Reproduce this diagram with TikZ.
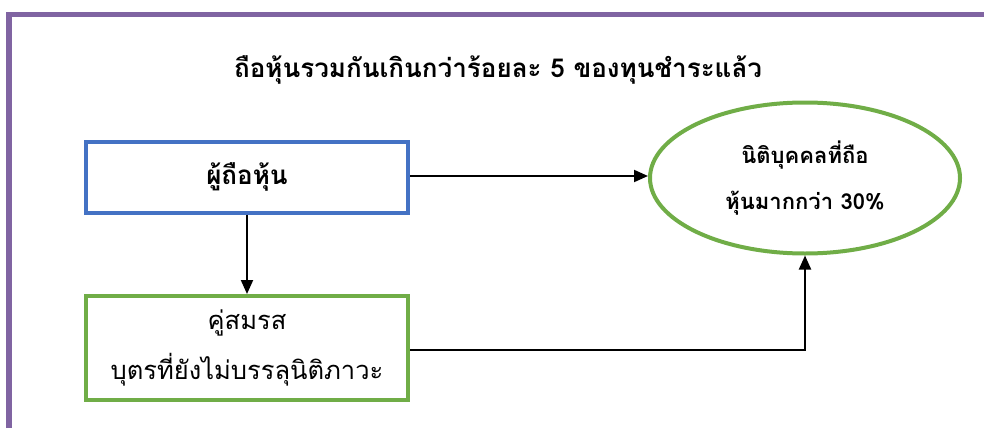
\documentclass[tikz,border=0pt]{standalone}
\usepackage{fontspec}
\newfontfamily\thai[Script=Thai]{Loma}
\usetikzlibrary{arrows.meta,shapes.geometric}
\definecolor{framepurple}{HTML}{8064A2}
\definecolor{boxblue}{HTML}{4472C4}
\definecolor{boxgreen}{HTML}{70AD47}
\tikzset{
  box/.style={draw, line width=4pt, minimum width=322pt, minimum height=#1, align=center, inner sep=0pt},
  conn/.style={line width=2pt, -{Triangle[length=14pt,width=12pt]}},
  txt/.style={font=\thai\bfseries, align=center}
}
\begin{document}
\begin{tikzpicture}[x=1pt,y=-1pt]
\useasboundingbox (0,0) rectangle (984,428);
\draw[framepurple, line width=5.5pt] (8.75,428) -- (8.75,14.5) -- (984,14.5);
\node[txt, font=\thai\bfseries\fontsize{26}{30}\selectfont] (title) at (498,70) {ถือหุ้นรวมกันเกินกว่าร้อยละ 5 ของทุนชำระแล้ว};
\node[box=71pt, draw=boxblue, font=\thai\bfseries\fontsize{26}{30}\selectfont] (holder) at (247,177) {ผู้ถือหุ้น};
\node[box=104pt, draw=boxgreen, font=\thai\fontsize{25.5}{50}\selectfont] (family) at (247,348) {คู่สมรส\\บุตรที่ยังไม่บรรลุนิติภาวะ};
\node[draw=boxgreen, line width=4pt, ellipse, minimum width=310pt, minimum height=151pt, inner sep=0pt, align=center, font=\thai\bfseries\fontsize{22}{46}\selectfont] (corp) at (805,178) {นิติบุคคลที่ถือ\\หุ้นมากกว่า 30\%};
\draw[conn] (holder.east |- 0,176) -- (corp.west |- 0,176);
\draw[conn] (holder.south) -- (family.north);
\draw[conn] (family.east |- 0,350) -| (corp.south);
\end{tikzpicture}
\end{document}
